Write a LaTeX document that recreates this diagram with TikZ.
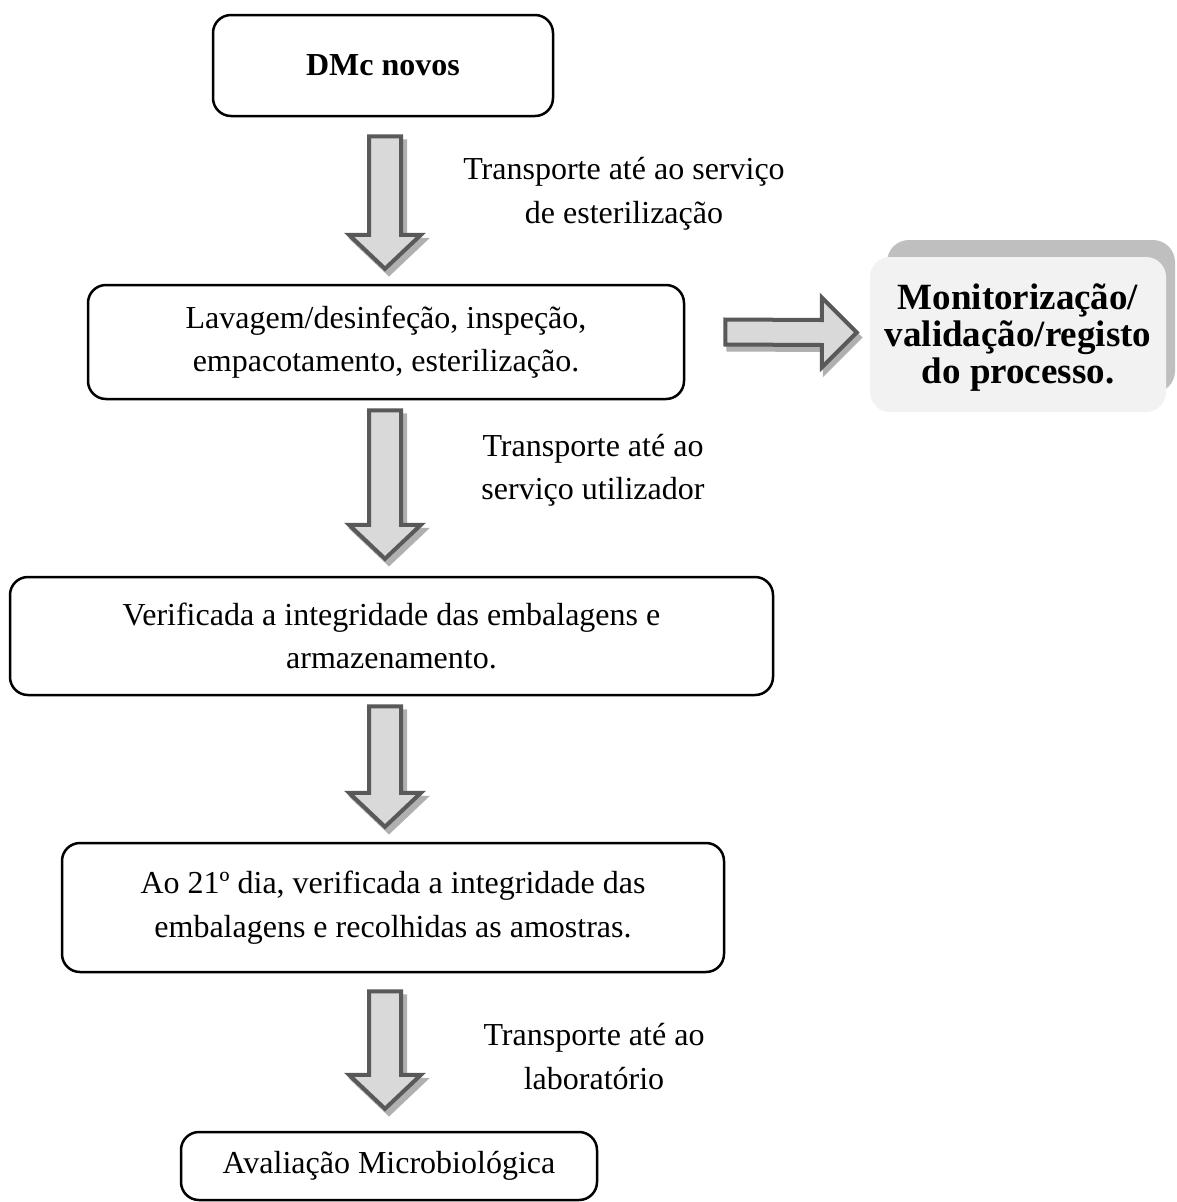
\documentclass[tikz,border=0pt]{standalone}
\usepackage{fontspec}
\setmainfont{Liberation Serif}
\usetikzlibrary{calc}
\definecolor{arrfill}{HTML}{D9D9D9}
\definecolor{arrline}{HTML}{595959}
\definecolor{arrshadow}{HTML}{B0B0B0}
\definecolor{monback}{HTML}{BFBFBF}
\definecolor{monfront}{HTML}{F2F2F2}
\newcommand\regfont{\fontsize{32}{43.5}\selectfont}
\newcommand\monfont{\fontsize{37}{37}\selectfont\bfseries}
% down block arrow: #1 start, #2 tip, #3 offset, #4 style
\newcommand\blockdn[4]{%
  \path[#4] ($(#1)+#3+(-16,0)$) -- ($(#1)+#3+(16,0)$) -- ($(#2)+#3+(16,-34)$)
    -- ($(#2)+#3+(36,-34)$) -- ($(#2)+#3$) -- ($(#2)+#3+(-36,-34)$)
    -- ($(#2)+#3+(-16,-34)$) -- cycle;}
% right block arrow
\newcommand\blockrt[4]{%
  \path[#4] ($(#1)+#3+(0,-12.5)$) -- ($(#2)+#3+(-35,-12.5)$) -- ($(#2)+#3+(-35,-35)$)
    -- ($(#2)+#3$) -- ($(#2)+#3+(-35,35)$) -- ($(#2)+#3+(-35,12.5)$)
    -- ($(#1)+#3+(0,12.5)$) -- cycle;}
\begin{document}
\begin{tikzpicture}[x=1pt,y=-1pt,
  box/.style={draw=black, line width=2.5pt, rounded corners=18pt, inner sep=0pt,
    align=center, font=\regfont},
  lbl/.style={inner sep=0pt, align=center, font=\regfont},
  arrbody/.style={fill=arrfill, draw=arrline, line width=4pt, line join=miter},
  arrshade/.style={fill=arrshadow, draw=arrshadow, line width=4pt},
  monbk/.style={fill=monback, rounded corners=22pt, inner sep=0pt},
  monfr/.style={fill=monfront, rounded corners=20pt, inner sep=0pt, align=center, font=\monfont}]
\useasboundingbox (0,0) rectangle (1176,1202);
\fill[white] (0,0) rectangle (1176,1202);

\node[box, minimum width=340pt, minimum height=101pt] (b1) at (383,65.5) {\textbf{DMc novos}};
\node[box, minimum width=596pt, minimum height=114pt] (b2) at (386,342)
  {Lavagem/desinfeção, inspeção,\\empacotamento, esterilização.};
\node[box, minimum width=763pt, minimum height=118pt] (b3) at (391.5,636)
  {Verificada a integridade das embalagens e\\armazenamento.};
\node[box, minimum width=662pt, minimum height=129pt] (b4) at (393,907.5)
  {Ao 21º dia, verificada a integridade das\\embalagens e recolhidas as amostras.};
\node[box, minimum width=416pt, minimum height=68pt] (b5) at (389,1166)
  {Avaliação Microbiológica};

\node[monbk, minimum width=288pt, minimum height=153pt] (monb) at (1031,316.5) {};
\node[monfr, minimum width=296pt, minimum height=155pt] (mon) at (1018,334.5) {};
\node[inner sep=0pt, align=center, font=\monfont] (montxt) at (1018,338)
  {Monitorização/\\validação/registo\\do processo.};

\node[lbl] (t1) at (624,194) {Transporte até ao serviço\\de esterilização};
\node[lbl] (t2) at (593,470.5) {Transporte até ao\\serviço utilizador};
\node[lbl] (t3) at (594,1056.5) {Transporte até ao\\laboratório};

\coordinate (ax) at (385,0);
\coordinate (a1s) at ($(b1.south -| ax)+(0,19)$);
\coordinate (a1e) at ($(b2.north -| ax)+(0,-15)$);
\coordinate (a2s) at ($(b2.south -| ax)+(0,10)$);
\coordinate (a2e) at ($(b3.north -| ax)+(0,-17)$);
\coordinate (a3s) at ($(b3.south -| ax)+(0,10)$);
\coordinate (a3e) at ($(b4.north -| ax)+(0,-15)$);
\coordinate (a4s) at ($(b4.south -| ax)+(0,18)$);
\coordinate (a4e) at ($(b5.north -| ax)+(0,-22)$);
\coordinate (r1s) at ($(b2.east)+(40,-10)$);
\coordinate (r1e) at ($(mon.west)+(-13,-2)$);

\foreach \s/\e in {a1s/a1e, a2s/a2e, a3s/a3e, a4s/a4e}{
  \blockdn{\s}{\e}{(4,5)}{arrshade}
  \blockdn{\s}{\e}{(0,0)}{arrbody}
}
\blockrt{r1s}{r1e}{(3,5)}{arrshade}
\blockrt{r1s}{r1e}{(0,0)}{arrbody}
\end{tikzpicture}
\end{document}
